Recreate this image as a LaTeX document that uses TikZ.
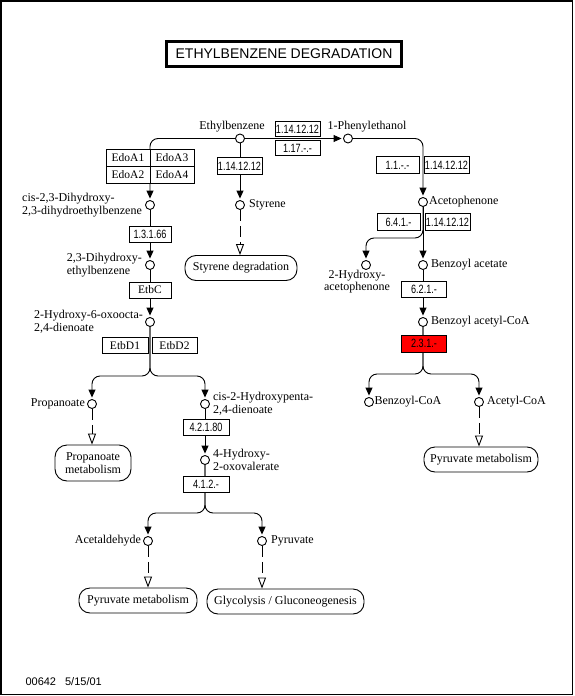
\documentclass[tikz,border=0pt]{standalone}
\usepackage{fontspec}
\setmainfont{Liberation Serif}
\setsansfont{Liberation Sans}
\newfontfamily\ecfont[FakeStretch=0.76]{Liberation Sans}
\usetikzlibrary{arrows.meta}
\definecolor{keggred}{HTML}{FF0000}

\begin{document}
\begin{tikzpicture}[x=1pt, y=-1pt,
        every node/.style={font=\fontsize{12}{13}\selectfont},
        cpd/.style={
          circle, draw, fill=white, line width=0.9pt,
          inner sep=0pt, minimum size=9pt,
        },
        lbl/.style={font=\fontsize{12}{12.5}\selectfont, inner sep=1pt, align=left},
        ec/.style={
          draw, fill=white, line width=0.9pt, inner sep=0pt,
          minimum width=45pt, minimum height=17pt,
          font=\ecfont\fontsize{12}{13}\selectfont,
        },
        gene/.style={ec, font=\fontsize{11.5}{12}\selectfont},
        map/.style={
          draw, fill=white, line width=0.9pt,
          rounded corners=11pt, inner sep=0pt,
          minimum height=25pt, align=center,
        },
        rx/.style={-{Triangle[width=7pt,length=8pt]}, line width=0.9pt, shorten >=1.5pt},
        lnk/.style={-{Triangle[open,width=8pt,length=11pt]}, line width=0.9pt, dash pattern=on 11pt off 5pt},
      ]
      \useasboundingbox (0,0) rectangle (574,696);
      \draw[line width=1.5pt] (0.75,0.75) rectangle (572.5,694.5);

      \node[draw, line width=3pt, minimum width=235pt, minimum height=25pt,
            font=\sffamily\fontsize{14}{16}\selectfont] (title) at (284,54) {ETHYLBENZENE DEGRADATION};

      \node[cpd, label={[lbl, xshift=-8pt]above:Ethylbenzene}] (eb) at (240,138.5) {};
      \node[cpd, label={[lbl, xshift=19pt]above:1-Phenylethanol}] (pe) at (348,138.5) {};
      \node[cpd, label={[lbl, label distance=3pt]east:Styrene}] (sty) at (240,205) {};
      \node[cpd, label={[lbl, xshift=-2pt]west:cis-2,3-Dihydroxy-\\2,3-dihydroethylbenzene}] (cdh) at (150,205) {};
      \node[cpd, label={[lbl, xshift=-2pt]west:2,3-Dihydroxy-\\ethylbenzene}] (dhe) at (150,265) {};
      \node[cpd, label={[lbl, xshift=-1pt]west:2-Hydroxy-6-oxoocta-\\2,4-dienoate}] (hod) at (150,322) {};
      \node[cpd, label={[lbl, xshift=-1pt]west:Propanoate}] (prop) at (92,404) {};
      \node[cpd, label={[lbl, label distance=2pt]east:cis-2-Hydroxypenta-\\2,4-dienoate}] (chp) at (205,404) {};
      \node[cpd, label={[lbl, label distance=2pt]east:4-Hydroxy-\\2-oxovalerate}] (hov) at (205,460) {};
      \node[cpd, label={[lbl, xshift=-1pt]west:Acetaldehyde}] (acald) at (148,541) {};
      \node[cpd, label={[lbl, label distance=3pt]east:Pyruvate}] (pyr) at (262,541) {};
      \node[cpd, label={[lbl]east:Acetophenone}] (ap) at (423,202) {};
      \node[cpd, label={[lbl, align=center, xshift=-9pt, label distance=-1pt]below:2-Hydroxy-\\acetophenone}] (hap) at (366,265) {};
      \node[cpd, label={[lbl, label distance=2pt]east:Benzoyl acetate}] (ba) at (423,265) {};
      \node[cpd, label={[lbl, label distance=2pt]east:Benzoyl acetyl-CoA}] (bac) at (423,322) {};
      \node[cpd, label={[lbl, inner sep=0.5pt]east:Benzoyl-CoA}] (bcoa) at (369,402) {};
      \node[cpd, label={[lbl, label distance=2pt]east:Acetyl-CoA}] (acoa) at (479,402) {};

      \node[map, minimum width=112pt] (styd) at (241,268) {Styrene degradation};
      \node[map, minimum width=76pt, minimum height=36pt, rounded corners=12pt] (propm) at (93,463) {Propanoate\\metabolism};
      \node[map, minimum width=114pt] (pyrm1) at (481,459.5) {Pyruvate metabolism};
      \node[map, minimum width=118pt] (pyrm2) at (138,600.5) {Pyruvate metabolism};
      \node[map, minimum width=157pt] (glyc) at (285.5,601.5) {Glycolysis / Gluconeogenesis};

      \coordinate (hodbr) at (150,376);
      \coordinate (hovbr) at (205,513);
      \coordinate (apbr) at (423,238);
      \coordinate (bacbr) at (423,374);

      \draw[rx] (eb) -- (pe);
      \draw[rx, rounded corners=8pt] (eb) -| (cdh);
      \draw[rx] (eb) -- (sty);
      \draw[rx] (cdh) -- (dhe);
      \draw[rx] (dhe) -- (hod);
      \draw[rx, rounded corners=8pt] (hod) -- (hodbr) -| (prop);
      \draw[rx, rounded corners=8pt] (hod) -- (hodbr) -| (chp);
      \draw[rx] (chp) -- (hov);
      \draw[rx, rounded corners=8pt] (hov) -- (hovbr) -| (acald);
      \draw[rx, rounded corners=8pt] (hov) -- (hovbr) -| (pyr);
      \draw[rx, rounded corners=8pt] (pe) -| (ap);
      \draw[rx] (ap) -- (ba);
      \draw[rx, rounded corners=8pt] (ap) -- (apbr) -| (hap);
      \draw[rx] (ba) -- (bac);
      \draw[rx, rounded corners=8pt] (bac) -- (bacbr) -| (bcoa);
      \draw[rx, rounded corners=8pt] (bac) -- (bacbr) -| (acoa);

      \draw[lnk] (sty) -- (sty |- styd.north);
      \draw[lnk] (prop) -- (prop |- propm.north);
      \draw[lnk] (acoa) -- (acoa |- pyrm1.north);
      \draw[lnk] (acald) -- (acald |- pyrm2.north);
      \draw[lnk] (pyr) -- (pyr |- glyc.north);

      \node[ec, minimum height=15pt] (r1) at (297.5,129) {1.14.12.12};
      \node[ec, minimum height=15pt] (r2) at (297.5,148) {1.17.-.-};
      \node[gene, minimum width=44pt] (edoa1) at (128,157.5) {EdoA1};
      \node[gene, minimum width=44pt] (edoa3) at (172,157.5) {EdoA3};
      \node[gene, minimum width=44pt] (edoa2) at (128,174.5) {EdoA2};
      \node[gene, minimum width=44pt] (edoa4) at (172,174.5) {EdoA4};
      \node[ec] (r3) at (239.5,166) {1.14.12.12};
      \node[ec, minimum width=42pt, minimum height=16pt] (r4) at (150,234.5) {1.3.1.66};
      \node[gene, minimum width=42pt, minimum height=16pt] (etbc) at (150,290) {EtbC};
      \node[gene, minimum width=46pt, minimum height=16pt] (etbd1) at (125,345.5) {EtbD1};
      \node[gene, minimum width=45pt, minimum height=16pt] (etbd2) at (174.5,345.5) {EtbD2};
      \node[ec, minimum width=46pt, minimum height=16pt] (r5) at (206,427.5) {4.2.1.80};
      \node[ec, minimum width=46pt, minimum height=16pt] (r6) at (206,484) {4.1.2.-};
      \node[ec, minimum width=43pt] (r7) at (397.5,165) {1.1.-.-};
      \node[ec] (r8) at (446.5,165) {1.14.12.12};
      \node[ec, minimum width=43pt] (r9) at (398.5,222) {6.4.1.-};
      \node[ec] (r10) at (447.5,222) {1.14.12.12};
      \node[ec, minimum height=16pt] (r11) at (424,289.5) {6.2.1.-};
      \node[ec, fill=keggred] (r12) at (424,343.5) {2.3.1.-};

      \node[anchor=west, font=\sffamily\fontsize{11}{12}\selectfont] (stamp) at (22,682) {00642\hspace{9pt}5/15/01};
    \end{tikzpicture}
\end{document}
